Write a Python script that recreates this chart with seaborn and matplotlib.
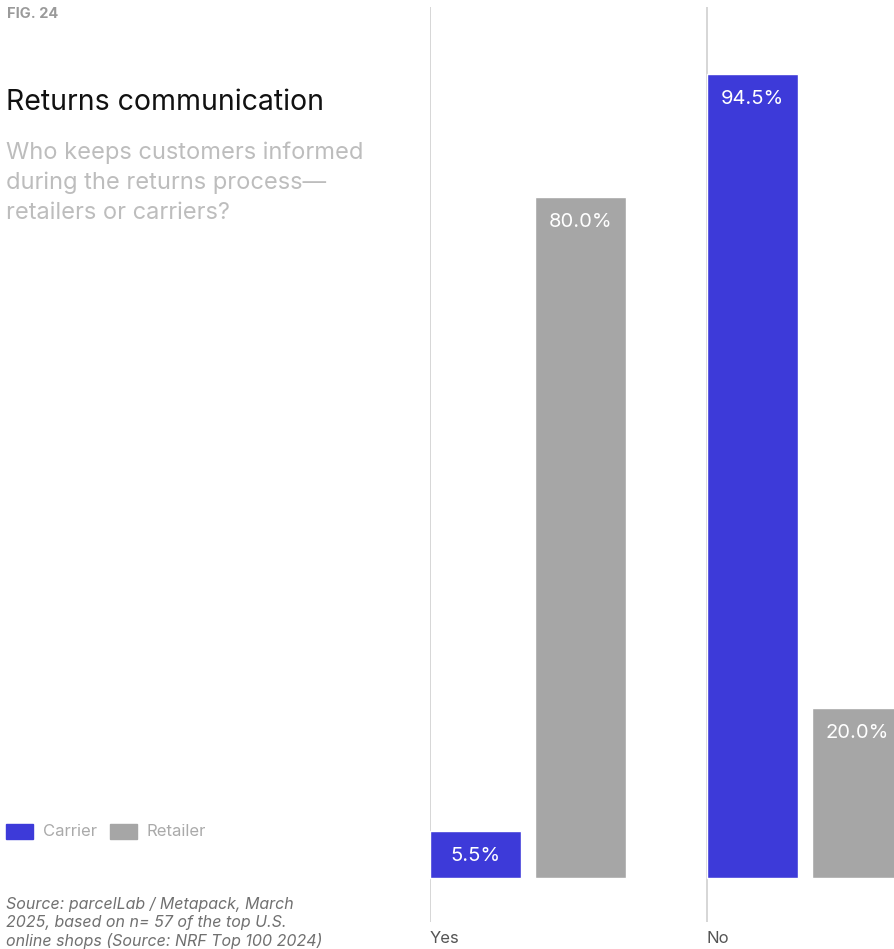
import matplotlib
matplotlib.use("Agg")
import matplotlib.pyplot as plt
from matplotlib.patches import Rectangle
import seaborn as sns
import pandas as pd

# Survey answers and the share of shops per sender of return updates
answers = ["Yes", "No"]
sources = ["Carrier", "Retailer"]
carrier_values = [5.5, 94.5]
retailer_values = [80.0, 20.0]

colors = {"Carrier": "#3D3AD9", "Retailer": "#A6A6A6"}

df = pd.DataFrame({
    "answer": answers * 2,
    "source": ["Carrier"] * 2 + ["Retailer"] * 2,
    "value": carrier_values + retailer_values,
})

sns.set_theme(style="white")
plt.rcParams["font.family"] = ["Inter", "DejaVu Sans"]

W, H = 895, 949
fig = plt.figure(figsize=(W / 100, H / 100), dpi=100)

# plot area in pixels: left 430, right 895, top 7, bottom 922; baseline at 878
px_left, px_right, px_top, px_bot, px_base = 430, 895, 7, 922, 878
ax = fig.add_axes([px_left / W, (H - px_bot) / H,
                   (px_right - px_left) / W, (px_bot - px_top) / H])

band_width = 0.758
gap = 0.1333
sns.barplot(data=df, x="answer", y="value", hue="source", order=answers,
            hue_order=sources, palette=colors, width=band_width, gap=gap,
            saturation=1, legend=False, ax=ax, zorder=2)

# x limits so that each group's first bar starts at the category rule
slot = band_width / 2
bar_w = slot * (1 - gap)
x0 = -slot / 2 - bar_w / 2
px_per_cat = 277
ax.set_xlim(x0, x0 + (px_right - px_left) / px_per_cat)

k = 8.508  # pixels per percentage point
ax.set_ylim(-(px_bot - px_base) / k, (px_base - px_top) / k)

for s in ax.spines.values():
    s.set_visible(False)
ax.set_xticks([])
ax.set_yticks([])
ax.set_xlabel("")
ax.set_ylabel("")


def fy(py):
    return (H - py) / H


def fx(px):
    return px / W


# category rules and labels
for i, a in enumerate(answers):
    xl = i + x0
    ax.axvline(xl, color="#D0D0D0", lw=1.2, zorder=1)
    fig.text(fx(px_left + px_per_cat * i), fy(943), a, ha="left",
             va="baseline", fontsize=12, color="#555555")

# value labels inside the top of each bar
for cont, vals in zip(ax.containers, [carrier_values, retailer_values]):
    for rect, v in zip(cont, vals):
        cx = rect.get_x() + rect.get_width() / 2
        ax.annotate(f"{v:.1f}%", xy=(cx, v), xytext=(0, -18),
                    textcoords="offset points", ha="center", va="center",
                    fontsize=14.5, color="white", zorder=3,
                    annotation_clip=False)

fig.text(fx(7), fy(14), "FIG. 24", fontsize=10.5, fontweight="bold",
         color="#9A9A9A", ha="left", va="center")
fig.text(fx(6), fy(110), "Returns communication", fontsize=20.5,
         color="#111111", ha="left", va="baseline")
for j, line in enumerate(["Who keeps customers informed",
                          "during the returns process\u2014",
                          "retailers or carriers?"]):
    fig.text(fx(6), fy(159 + 30 * j), line, fontsize=17,
             color="#BDBDBD", ha="left", va="baseline")

# legend
for lx, name in [(6, "Carrier"), (110, "Retailer")]:
    fig.patches.append(Rectangle((fx(lx), fy(839)), 27 / W, 15 / H,
                                 transform=fig.transFigure,
                                 color=colors[name]))
    fig.text(fx(lx + 37), fy(831.5), name, fontsize=12, color="#AAAAAA",
             ha="left", va="center")

for j, line in enumerate(["Source: parcelLab / Metapack, March",
                          "2025, based on n= 57 of the top U.S.",
                          "online shops (Source: NRF Top 100 2024)"]):
    fig.text(fx(6), fy(909 + 18.5 * j), line, fontsize=11.5, style="italic",
             color="#707070", ha="left", va="baseline")

fig.savefig("out.png", dpi=100)
